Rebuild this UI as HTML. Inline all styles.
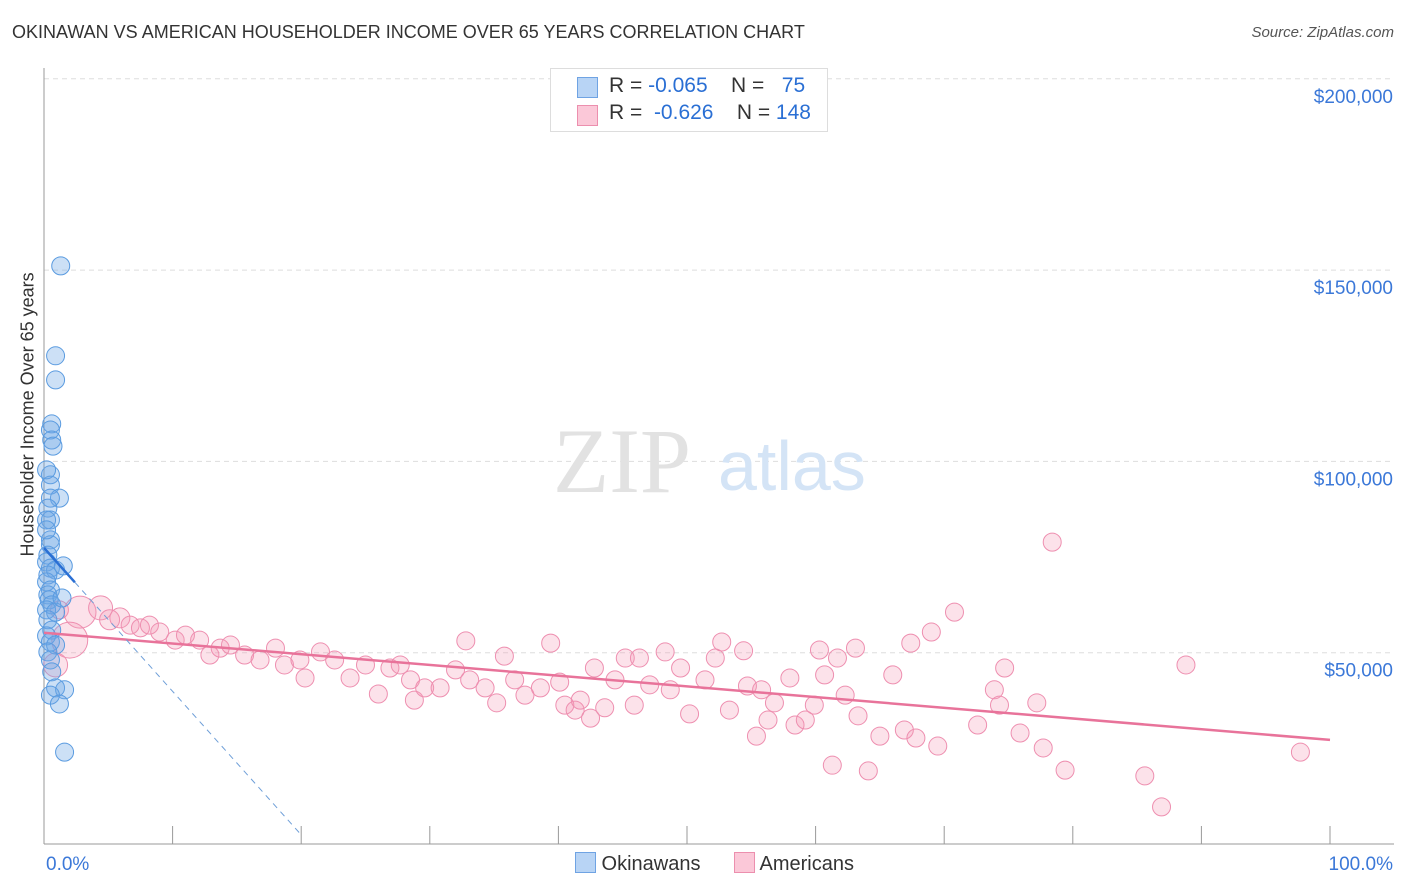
<!DOCTYPE html>
<html><head><meta charset="utf-8"><style>
body{margin:0;background:#fff;font-family:"Liberation Sans",sans-serif;}
#wrap{position:relative;width:1406px;height:892px;overflow:hidden;}
.t{position:absolute;white-space:nowrap;}
</style></head><body>
<div id="wrap">
<div class="t" style="left:12px;top:22px;font-size:18px;color:#333;">OKINAWAN VS AMERICAN HOUSEHOLDER INCOME OVER 65 YEARS CORRELATION CHART</div>
<div class="t" style="right:12px;top:24px;font-size:15px;color:#555;font-style:italic;">Source: ZipAtlas.com</div>
<div class="t" style="left:-72px;top:446px;font-size:18px;color:#333;transform:rotate(-90deg);transform-origin:center;width:200px;text-align:center;">Householder Income Over 65 years</div>
<svg id="svg" width="1406" height="892" style="position:absolute;left:0;top:0"></svg>
<div style="position:absolute;left:550px;top:68px;width:276px;height:62px;border:1px solid #ddd;background:#fff;font-size:21px;color:#333;">
<div style="position:absolute;left:26px;top:8px;width:19px;height:19px;background:#b8d4f5;border:1px solid #6fa3e3;"></div>
<div class="t" style="left:58px;top:5px;">R = <span style="color:#2a6fd4">-0.065</span>&nbsp;&nbsp;&nbsp; N = &nbsp;&nbsp;<span style="color:#2a6fd4">75</span></div>
<div style="position:absolute;left:26px;top:36px;width:19px;height:19px;background:#fbc8d8;border:1px solid #ec8fae;"></div>
<div class="t" style="left:58px;top:32px;">R = &nbsp;<span style="color:#2a6fd4">-0.626</span>&nbsp;&nbsp;&nbsp; N = <span style="color:#2a6fd4">148</span></div>
</div>
<div style="position:absolute;left:575px;top:852px;font-size:20px;color:#333;">
<span style="display:inline-block;width:19px;height:19px;background:#b8d4f5;border:1px solid #6fa3e3;vertical-align:-3px;"></span> Okinawans
<span style="display:inline-block;width:19px;height:19px;background:#fbc8d8;border:1px solid #ec8fae;vertical-align:-3px;margin-left:28px;"></span> Americans</div>
</div>
<script>
const blueX=[1.3,0.9,0.9,0.6,0.5,0.6,0.7,0.5,0.5,1.2,0.5,0.3,0.5,0.2,0.5,0.5,0.3,0.2,0.5,0.9,1.5,0.3,0.2,0.5,0.3,0.4,0.6,0.2,0.9,0.3,0.6,0.2,0.5,0.9,0.3,0.5,0.6,0.9,1.6,0.5,1.2,1.6,1.4,0.2,0.2];
const blueY=[151.1,127.6,121.3,109.8,108.2,105.6,104.0,96.5,93.8,90.4,90.4,87.8,84.7,84.7,79.5,78.2,75.5,73.7,72.1,71.6,72.7,70.3,68.5,66.4,65.1,63.8,62.5,61.2,60.6,58.6,55.9,54.4,52.8,52.0,50.2,48.1,45.0,40.8,40.3,38.9,36.6,24.0,64.3,82.1,97.8];
const pinkX=[1.2,2.8,4.4,5.1,5.9,6.7,7.5,8.2,9.0,10.2,11.0,12.1,12.9,13.7,14.5,15.6,16.8,18.0,18.7,19.9,20.3,21.5,22.6,23.8,25.0,26.0,26.9,27.7,28.5,28.8,29.6,30.8,32.0,32.8,33.1,34.3,35.2,35.8,36.6,37.4,38.6,39.4,40.1,40.5,41.3,41.7,42.5,42.8,43.6,44.4,45.2,45.9,46.3,47.1,48.3,48.7,49.5,50.2,51.4,52.2,52.7,53.3,54.4,54.7,55.4,55.8,56.3,56.8,58.0,58.4,59.2,59.9,60.3,60.7,61.3,61.7,62.3,63.1,63.3,64.1,65.0,66.0,66.9,67.4,67.8,69.0,69.5,70.8,72.6,73.9,74.3,74.7,75.9,77.2,77.7,78.4,79.4,85.6,86.9,88.8,97.7,2.0,0.9];
const pinkY=[61.2,60.6,61.7,58.6,59.1,57.2,56.5,57.2,55.4,53.3,54.6,53.3,49.4,51.2,52.0,49.4,48.1,51.2,46.8,48.1,43.4,50.2,48.1,43.4,46.8,39.2,46.0,46.8,42.9,37.6,40.8,40.8,45.5,53.1,42.9,40.8,36.9,49.1,42.9,38.9,40.8,52.5,42.3,36.3,35.0,37.6,32.9,46.0,35.6,42.9,48.6,36.3,48.6,41.6,50.2,40.3,46.0,34.0,42.9,48.6,52.8,35.0,50.5,41.3,28.2,40.3,32.4,36.9,43.4,31.1,32.4,36.3,50.7,44.2,20.6,48.6,38.9,51.2,33.5,19.1,28.2,44.2,29.8,52.5,27.7,55.4,25.6,60.6,31.1,40.3,36.3,46.0,29.0,36.9,25.1,78.9,19.3,17.8,9.7,46.8,24.0,53.3,46.8];
const pinkR=[9,16,12,10,10,9,9,9,9,9,9,9,9,9,9,9,9,9,9,9,9,9,9,9,9,9,9,9,9,9,9,9,9,9,9,9,9,9,9,9,9,9,9,9,9,9,9,9,9,9,9,9,9,9,9,9,9,9,9,9,9,9,9,9,9,9,9,9,9,9,9,9,9,9,9,9,9,9,9,9,9,9,9,9,9,9,9,9,9,9,9,9,9,9,9,9,9,9,9,9,9,18,12];
const yTicks=[50,100,150,200];
const yTickLabels=["$50,000","$100,000","$150,000","$200,000"];
const xTicks=[0,10,20,30,40,50,60,70,80,90,100];
const pinkTrend=[55.2,27.2];
const blueTrend=[77.4,-297.6];
const svg=document.getElementById('svg');
const NS='http://www.w3.org/2000/svg';
const X=v=>44+v*12.86;
const Y=v=>844-v*3.826;
function mk(t,a){const e=document.createElementNS(NS,t);for(const k in a)e.setAttribute(k,a[k]);svg.appendChild(e);return e;}
yTicks.forEach((v,i)=>{
 const g=mk('line',{x1:44,x2:1394,y1:Y(v),y2:Y(v),stroke:'#ddd','stroke-dasharray':'5,4'});
 
 
 const t=mk('text',{x:1393,y:Y(v)+24,'text-anchor':'end','font-size':19,fill:'#3b78d8','font-family':'Liberation Sans, sans-serif'});
 t.textContent=yTickLabels[i];
 
 
});
const ax=mk('line',{x1:44,x2:44,y1:68,y2:844,stroke:'#999'});


const bx=mk('line',{x1:44,x2:1394,y1:844,y2:844,stroke:'#999'});


xTicks.forEach(v=>{const l=mk('line',{x1:X(v),x2:X(v),y1:826,y2:844,stroke:'#999'});
 
 });
[[X(0)+2,'start','0.0%'],[1393,'end','100.0%']].forEach(a=>{const t=mk('text',{x:a[0],y:870,'text-anchor':a[1],'font-size':19,fill:'#3b78d8','font-family':'Liberation Sans, sans-serif'});t.textContent=a[2];
 
 });
const w1=mk('text',{x:553,y:492,'font-size':92,fill:'#e2e2e2','font-family':'Liberation Serif, serif'});w1.textContent='ZIP';


const w2=mk('text',{x:718,y:490,'font-size':70,fill:'#d4e4f6','font-family':'Liberation Sans, sans-serif'});w2.textContent='atlas';


pinkX.forEach((x,i)=>{const c=mk('circle',{cx:X(x),cy:Y(pinkY[i]),r:pinkR[i],fill:'rgba(244,150,180,0.28)',stroke:'#ee8fb0','stroke-width':1});
 
 });
blueX.forEach((x,i)=>{const c=mk('circle',{cx:X(x),cy:Y(blueY[i]),r:9,fill:'rgba(110,165,230,0.35)',stroke:'#5a9be0','stroke-width':1});
 
 });
const pl=mk('line',{x1:X(0),y1:Y(pinkTrend[0]),x2:X(100),y2:Y(pinkTrend[1]),stroke:'#e8739a','stroke-width':2.5});


const bs=(blueTrend[1]-blueTrend[0])/100;
const bl=mk('line',{x1:X(0),y1:Y(blueTrend[0]),x2:X(2.4),y2:Y(blueTrend[0]+bs*2.4),stroke:'#2a6fd4','stroke-width':2.5});


const bd=mk('line',{x1:X(2.4),y1:Y(blueTrend[0]+bs*2.4),x2:X(20),y2:Y(blueTrend[0]+bs*20),stroke:'#6f9fd8','stroke-width':1,'stroke-dasharray':'6,5'});


</script>
</body></html>
